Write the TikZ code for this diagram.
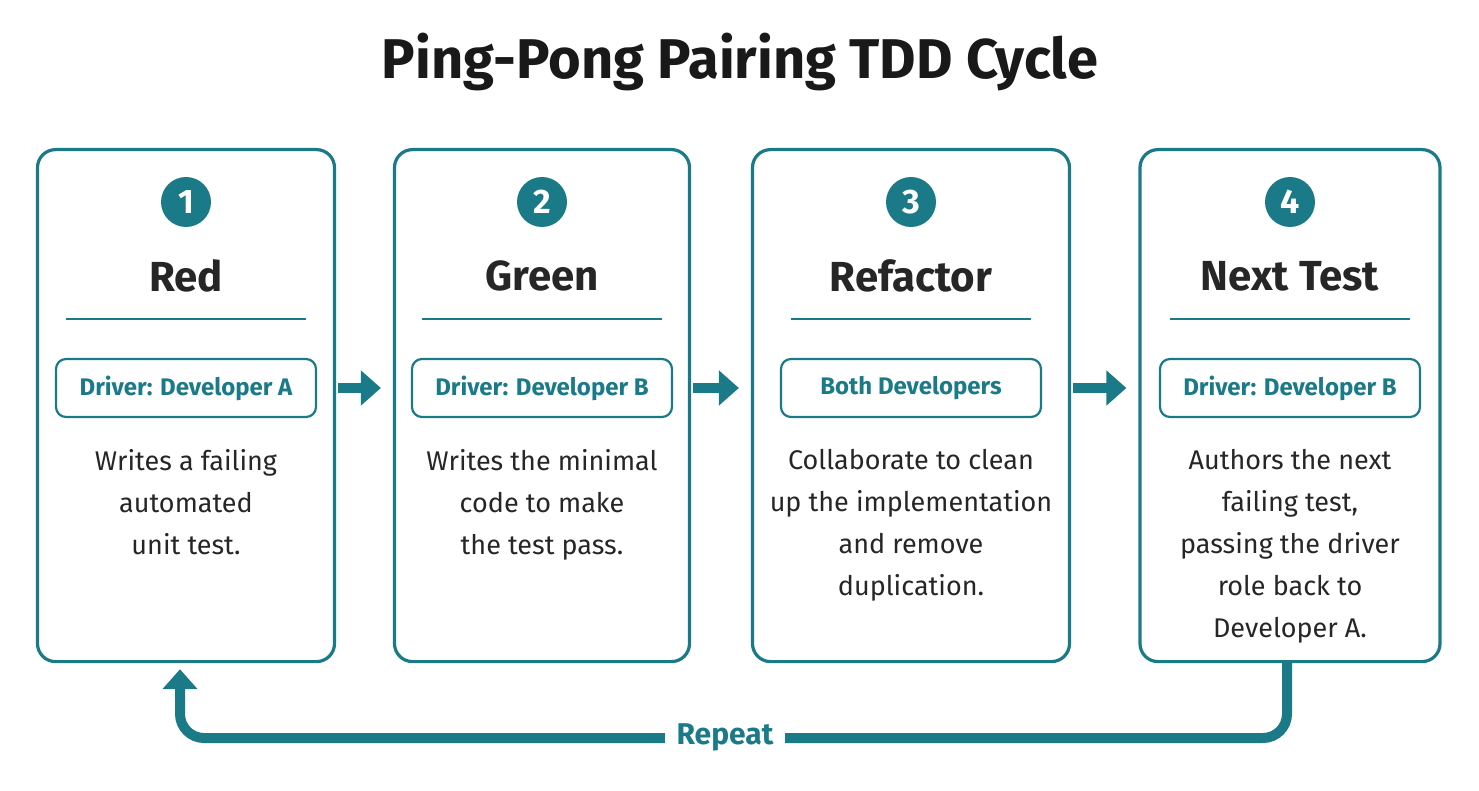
\documentclass[tikz,border=0pt]{standalone}
\usepackage{fontspec}
\setmainfont{Fira Sans}
\usetikzlibrary{positioning,arrows.meta}
\definecolor{teal1}{HTML}{1B7A87}
\tikzset{
  card/.style={draw=teal1,line width=1.6pt,rounded corners=9pt,minimum height=256pt,anchor=north},
  num/.style={circle,fill=teal1,text=white,minimum size=25pt,inner sep=0pt,font=\fontsize{17}{17}\selectfont\bfseries},
  head/.style={font=\fontsize{21}{21}\selectfont\bfseries,text=black!85},
  role/.style={draw=teal1,line width=1.1pt,rounded corners=5pt,minimum width=130pt,minimum height=29pt,text=teal1,font=\fontsize{12}{12}\selectfont\bfseries},
  body/.style={align=center,font=\fontsize{13.5}{21}\selectfont,text=black!85},
  flow/.style={-{Triangle[length=10pt,width=17pt]},line width=5pt,teal1}
}
\begin{document}
\begin{tikzpicture}[x=0.5pt,y=-0.5pt]
  \useasboundingbox (0,0) rectangle (1479,791);
  \node[font=\fontsize{28}{28}\selectfont\bfseries,text=black!90] (title) at (740,62) {Ping-Pong Pairing TDD Cycle};
  % cards
  \node[card,minimum width=148.5pt] (c1) at (186,148) {};
  \node[card,minimum width=147.5pt] (c2) at (542,148) {};
  \node[card,minimum width=158.5pt] (c3) at (911,148) {};
  \node[card,minimum width=150pt] (c4) at (1290,148) {};
  \foreach \c/\n/\h/\r in {c1/1/Red/Driver: Developer A,c2/2/Green/Driver: Developer B,
      c3/3/Refactor/Both Developers,c4/4/Next Test/Driver: Developer B}{
    \node[num] (\c n) at ([yshift=-27pt]\c.north) {\n};
    \node[head] (\c h) at ([yshift=-64pt]\c.north) {\h};
    \draw[teal1,line width=1.2pt] ([xshift=-60pt,yshift=-85.5pt]\c.north) -- ([xshift=60pt,yshift=-85.5pt]\c.north);
    \node[role] (\c r) at ([yshift=-120pt]\c.north) {\r};
  }
  \node[body,anchor=north] (c1b) at ([yshift=-147pt]c1.north) {Writes a failing\\automated\\unit test.};
  \node[body,anchor=north] (c2b) at ([yshift=-147pt]c2.north) {Writes the minimal\\code to make\\the test pass.};
  \node[body,anchor=north] (c3b) at ([yshift=-147pt]c3.north) {Collaborate to clean\\up the implementation\\and remove\\duplication.};
  \node[body,anchor=north] (c4b) at ([yshift=-147pt]c4.north) {Authors the next\\failing test,\\passing the driver\\role back to\\Developer A.};
  % arrows
  \draw[flow] ([xshift=1pt]c1.east |- c1r) -- ([xshift=-6pt]c2.west |- c1r);
  \draw[flow] ([xshift=1pt]c2.east |- c2r) -- ([xshift=-6pt]c3.west |- c2r);
  \draw[flow] ([xshift=1pt]c3.east |- c3r) -- ([xshift=-6pt]c4.west |- c3r);
  % repeat loop
  \coordinate (back) at (180,738);
  \draw[teal1,line width=5pt,rounded corners=12pt,-{Triangle[length=10pt,width=17pt]}]
    ([xshift=-1.5pt]c4.south) -- ([xshift=-1.5pt]c4.south |- back) -- (back) -- ([xshift=-3pt,yshift=-3pt]c1.south);
  \node[fill=white,text=teal1,font=\fontsize{15}{15}\selectfont\bfseries,inner xsep=6pt] (rep) at (725,737) {Repeat};
\end{tikzpicture}
\end{document}
